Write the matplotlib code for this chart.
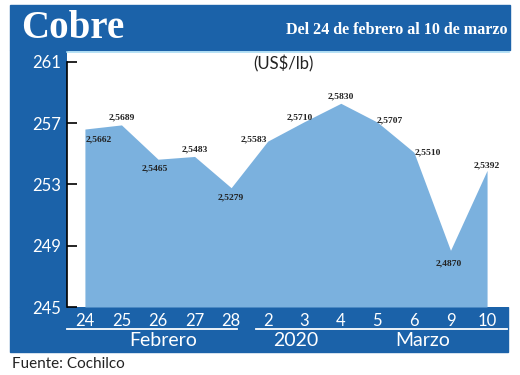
import numpy as np
import matplotlib
matplotlib.use('Agg')
import matplotlib.pyplot as plt
from matplotlib.patches import Rectangle
from matplotlib.lines import Line2D

# copper price, US cents per lb
days = ['24', '25', '26', '27', '28', '2', '3', '4', '5', '6', '9', '10']
price = [256.62, 256.89, 254.65, 254.83, 252.79, 255.83, 257.10, 258.30, 257.07, 255.10, 248.70, 253.92]
labels = ['2,5662', '2,5689', '2,5465', '2,5483', '2,5279', '2,5583',
          '2,5710', '2,5830', '2,5707', '2,5510', '2,4870', '2,5392']
yticks = [245, 249, 253, 257, 261]

# label offsets in pixels (dx, dy)
offs = [(14, -10), (0, 7), (-3, -9), (0, 7), (0, -10), (-14, 2),
        (-5, 4), (0, 7), (12, 2), (14, 0), (-2, -13), (0, 5)]

W, H = 520, 375
blue = '#1b62a9'
light = '#7bb1de'
sans = ['Lato', 'DejaVu Sans']

def fx(px):
    return px / W

def fy(py):
    return 1 - py / H

fig = plt.figure(figsize=(5.2, 3.75), dpi=100)
fig.patch.set_facecolor('white')

# blue frame pieces (behind the axes)
for (x0, y1, w, h) in [(10, 50, 500, 45), (10, 307, 57, 257), (10, 352, 498, 45)]:
    fig.patches.append(Rectangle((fx(x0), fy(y1)), fx(w), h / H, transform=fig.transFigure,
                                 color=blue, zorder=-5))

ax = fig.add_axes([fx(67), fy(307), fx(509 - 67), (307 - 52) / H])
ax.set_facecolor('white')

x = np.arange(len(days))
ax.fill_between(x, price, 245, color=light, linewidth=0, zorder=2)

for i in range(len(x)):
    ax.annotate(labels[i], (x[i], price[i]), xytext=offs[i], textcoords='offset pixels',
                ha='center', va='center', fontsize=6.8, fontweight='bold',
                family=['Liberation Sans Narrow', 'Liberation Serif'], color='#222222', zorder=3)

ax.set_xlim(-0.49, 11.6)
ax.set_ylim(245, 261.65)
ax.set_xticks(x)
ax.set_xticklabels(days)
ax.set_yticks(yticks)
ax.set_yticklabels([str(t) for t in yticks])
ax.tick_params(axis='x', length=0, pad=4, labelsize=12, labelcolor='white')
ax.tick_params(axis='y', direction='in', length=7, width=1.2, color='black', pad=4,
               labelsize=12, labelcolor='white')
for t in ax.get_xticklabels() + ax.get_yticklabels():
    t.set_family(sans)

for s in ['right', 'bottom']:
    ax.spines[s].set_visible(False)
ax.spines['top'].set_color('#a9dcf3')
ax.spines['top'].set_linewidth(1.2)
ax.spines['left'].set_color('black')
ax.spines['left'].set_linewidth(1.2)
ax.spines['left'].set_bounds(245, 261)

ax.text(0.49, 0.985, '(US$/lb)', transform=ax.transAxes, ha='center', va='top',
        fontsize=12, family=sans, color='#222222')

# header
fig.text(fx(21), fy(29), 'Cobre', ha='left', va='center', fontsize=28, fontweight='bold',
         family=['Liberation Serif'], color='white')
fig.text(fx(508), fy(30), 'Del 24 de febrero al 10 de marzo', ha='right', va='center',
         fontsize=11.6, fontweight='bold', family=['Liberation Serif'], color='white')

# month separators
fig.add_artist(Line2D([fx(67), fx(237)], [fy(329), fy(329)], color='white', lw=1.3))
fig.add_artist(Line2D([fx(256), fx(507)], [fy(329), fy(329)], color='white', lw=1.3))
fig.text(fx(163), fy(341), 'Febrero', ha='center', va='center', fontsize=14, family=sans, color='white')
fig.text(fx(296), fy(341), '2020', ha='center', va='center', fontsize=14, family=sans, color='white')
fig.text(fx(423), fy(341), 'Marzo', ha='center', va='center', fontsize=14, family=sans, color='white')

fig.text(fx(12), fy(364), 'Fuente: Cochilco', ha='left', va='center', fontsize=11,
         family=sans, color='#222222')

fig.savefig('out.png', dpi=100)
